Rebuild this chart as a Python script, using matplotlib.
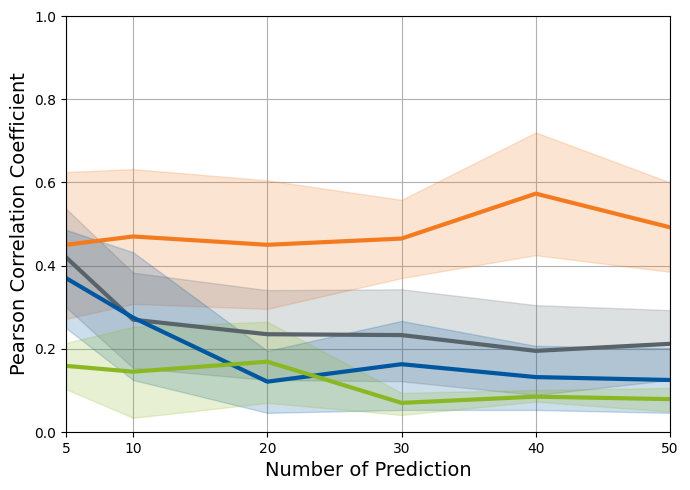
import matplotlib
matplotlib.use("Agg")
import matplotlib.pyplot as plt

# numero di predizioni
n_pred = [5, 10, 20, 30, 40, 50]

# valori medi e bande (min/max) per ciascuna serie
orange_mean = [0.450, 0.470, 0.450, 0.465, 0.573, 0.492]
orange_hi = [0.625, 0.632, 0.605, 0.558, 0.720, 0.600]
orange_lo = [0.272, 0.308, 0.296, 0.370, 0.425, 0.385]

gray_mean = [0.420, 0.270, 0.235, 0.233, 0.195, 0.212]
gray_hi = [0.537, 0.383, 0.341, 0.343, 0.305, 0.293]
gray_lo = [0.300, 0.154, 0.125, 0.122, 0.089, 0.125]

blue_mean = [0.370, 0.275, 0.121, 0.163, 0.132, 0.125]
blue_hi = [0.486, 0.432, 0.195, 0.267, 0.207, 0.202]
blue_lo = [0.250, 0.125, 0.046, 0.053, 0.053, 0.046]

green_mean = [0.159, 0.145, 0.169, 0.070, 0.085, 0.079]
green_hi = [0.214, 0.253, 0.265, 0.094, 0.101, 0.106]
green_lo = [0.103, 0.034, 0.070, 0.041, 0.073, 0.049]

series = [
    (orange_mean, orange_lo, orange_hi, "#f47a1f"),
    (gray_mean, gray_lo, gray_hi, "#58646a"),
    (blue_mean, blue_lo, blue_hi, "#0057a0"),
    (green_mean, green_lo, green_hi, "#8ab823"),
]

fig = plt.figure(figsize=(6.9, 4.9), dpi=100)
ax = fig.add_axes([66 / 690, 1 - 432 / 490, 604 / 690, 416 / 490])

for mean, lo, hi, col in series:
    ax.fill_between(n_pred, lo, hi, color=col, alpha=0.2)
for mean, lo, hi, col in series:
    ax.plot(n_pred, mean, color=col, linewidth=3)

ax.set_xlim(5, 50)
ax.set_ylim(0, 1)
ax.set_xticks(n_pred)
ax.set_yticks([0.0, 0.2, 0.4, 0.6, 0.8, 1.0])
ax.grid(True, color="#b0b0b0")
ax.set_axisbelow(True)
ax.set_xlabel("Number of Prediction", fontsize=14)
ax.set_ylabel("Pearson Correlation Coefficient", fontsize=14)

fig.savefig("out.png", dpi=100)
